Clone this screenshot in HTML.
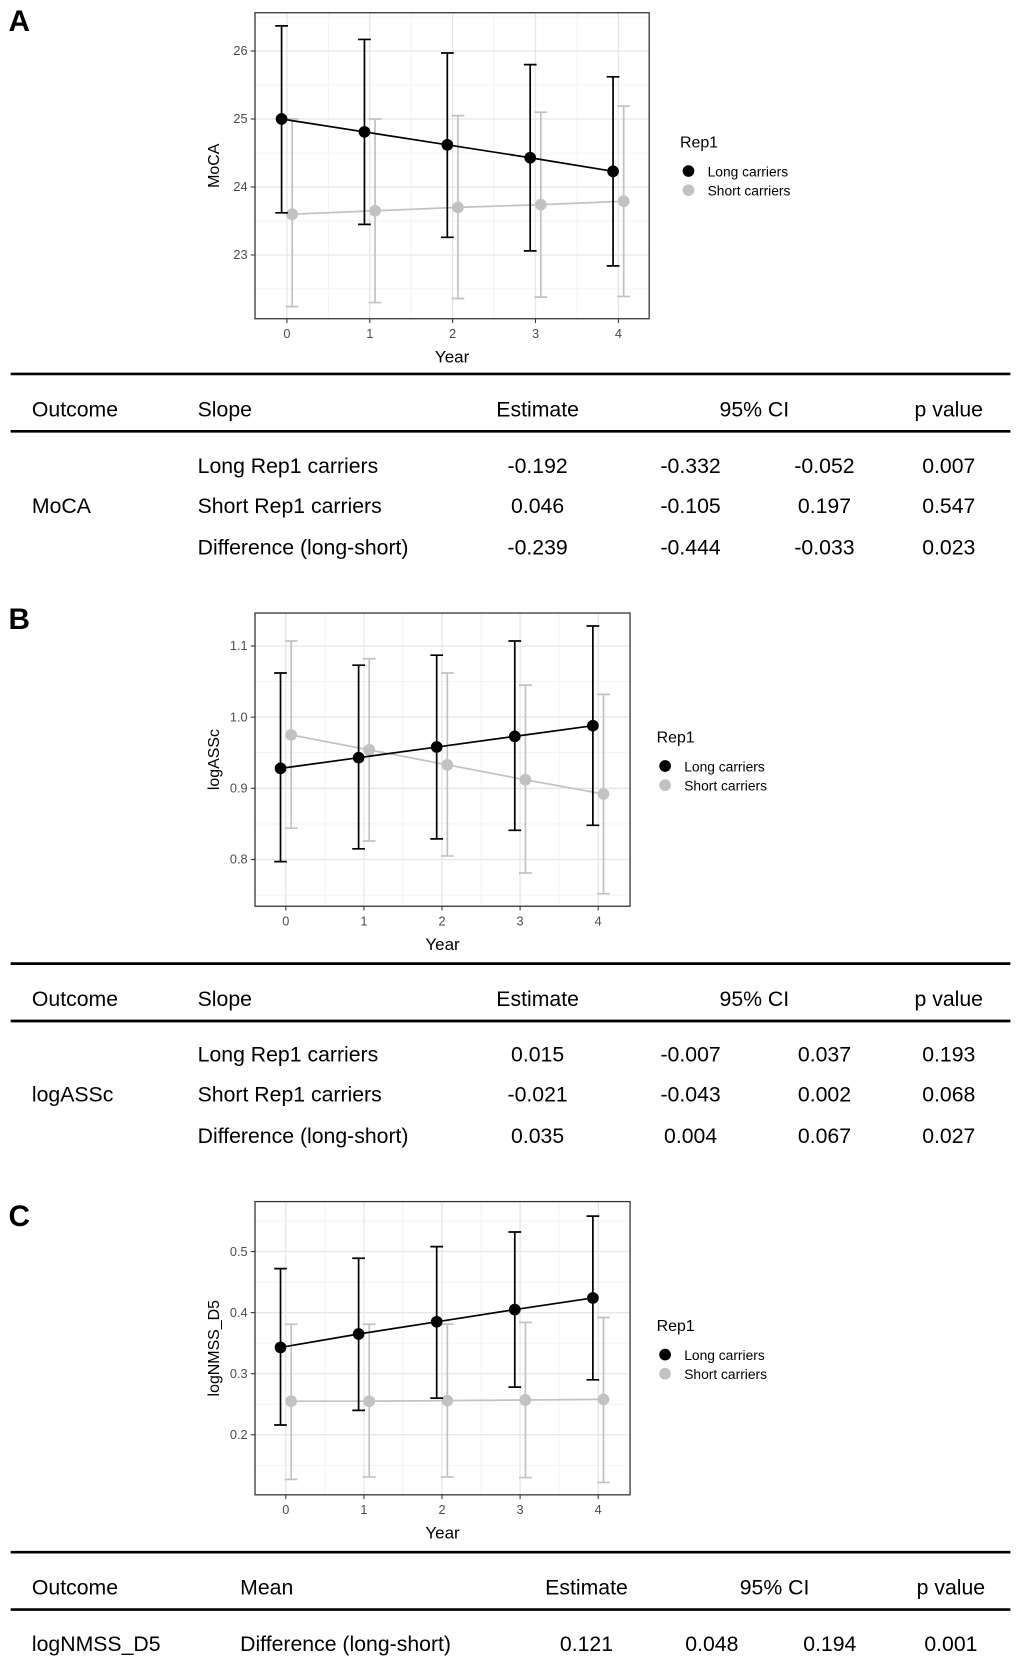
<!DOCTYPE html>
<html><head><meta charset="utf-8"><style>
html,body{margin:0;padding:0;background:#fff;width:1020px;height:1668px;overflow:hidden}
svg{display:block;font-family:"Liberation Sans",Arial,sans-serif}
</style></head><body>
<svg id="fig" width="1020" height="1668" viewBox="0 0 960 1570" xmlns="http://www.w3.org/2000/svg"></svg>
<script>
const years = [0,1,2,3,4];
const seriesNames = ["Long carriers","Short carriers"];
// Panel A (MoCA)
const aLong = [25.0,24.81,24.62,24.43,24.23];
const aLongHi = [26.37,26.17,25.97,25.80,25.62];
const aLongLo = [23.62,23.45,23.26,23.06,22.84];
const aShort = [23.60,23.65,23.70,23.74,23.79];
const aShortHi = [25.0,25.0,25.05,25.1,25.19];
const aShortLo = [22.24,22.30,22.36,22.38,22.39];
const aTicks = [23,24,25,26];
// Panel B (logASSc)
const bLong = [0.928,0.943,0.958,0.973,0.988];
const bLongHi = [1.062,1.073,1.087,1.107,1.128];
const bLongLo = [0.797,0.815,0.829,0.841,0.848];
const bShort = [0.975,0.954,0.933,0.912,0.892];
const bShortHi = [1.107,1.082,1.062,1.045,1.032];
const bShortLo = [0.844,0.826,0.805,0.781,0.752];
const bTicks = [0.8,0.9,1.0,1.1];
// Panel C (logNMSS_D5)
const cLong = [0.343,0.365,0.385,0.405,0.424];
const cLongHi = [0.472,0.489,0.508,0.532,0.558];
const cLongLo = [0.216,0.240,0.260,0.278,0.290];
const cShort = [0.255,0.255,0.256,0.257,0.258];
const cShortHi = [0.381,0.381,0.381,0.384,0.392];
const cShortLo = [0.127,0.131,0.131,0.130,0.122];
const cTicks = [0.2,0.3,0.4,0.5];

const NS="http://www.w3.org/2000/svg";
const svg=document.getElementById('fig');
function el(tag,attrs,parent,text){const e=document.createElementNS(NS,tag);for(const k in attrs)e.setAttribute(k,attrs[k]);if(text!==undefined)e.textContent=text;(parent||svg).appendChild(e);return e;}

function panel(o){
  const g=el('g',{});
  
  
  const L=240,R=o.right,T=o.top,B=o.bottom;
  const xs=v=>o.x0+v*o.dx;
  const ys=v=>o.y0-(v-o.t0)*o.py;
  el('rect',{x:L,y:T,width:R-L,height:B-T,fill:'#fff'},g);
  // minor grid
  for(let i=0;i<o.ticks.length+1;i++){const v=o.ticks[0]+(i-0.5)*o.step;const y=ys(v);if(y>T&&y<B)el('line',{x1:L,x2:R,y1:y,y2:y,stroke:'#f2f2f2','stroke-width':0.8},g);}
  for(let i=0;i<years.length-1;i++){const x=xs(years[i]+0.5);el('line',{x1:x,x2:x,y1:T,y2:B,stroke:'#f2f2f2','stroke-width':0.8},g);}
  o.ticks.forEach(t=>{const y=ys(t);el('line',{x1:L,x2:R,y1:y,y2:y,stroke:'#e6e6e6','stroke-width':1.2},g);
    el('line',{x1:L-4,x2:L,y1:y,y2:y,stroke:'#333'},g);
    const tl=el('text',{x:L-7,y:y+4,'text-anchor':'end','font-size':12,fill:'#4d4d4d'},g,o.fmt(t));
    });
  years.forEach(yv=>{const x=xs(yv);el('line',{x1:x,x2:x,y1:T,y2:B,stroke:'#e6e6e6','stroke-width':1.2},g);
    el('line',{x1:x,x2:x,y1:B,y2:B+4,stroke:'#333'},g);
    const tl=el('text',{x:x,y:B+18,'text-anchor':'middle','font-size':12,fill:'#4d4d4d'},g,String(yv));
    });
  const series=[[o.s[2],o.s[3],o.s[4],'#c2c2c2','short'],[o.s[0],o.s[1],o.s[5],'#000','long']];
  // draw short first then long
  const sdef=[{m:o.s[3],hi:o.s[4],lo:o.s[5],c:'#c2c2c2',off:5,n:'short'},{m:o.s[0],hi:o.s[1],lo:o.s[2],c:'#000',off:-5,n:'long'}];
  sdef.forEach(s=>{
    const pts=years.map((yv,i)=>(xs(yv)+s.off)+','+ys(s.m[i])).join(' ');
    const pl=el('polyline',{points:pts,fill:'none',stroke:s.c,'stroke-width':1.6},g);
    
    years.forEach((yv,i)=>{const x=xs(yv)+s.off;
      const eb=el('path',{d:`M${x},${ys(s.hi[i])}V${ys(s.lo[i])}M${x-6},${ys(s.hi[i])}H${x+6}M${x-6},${ys(s.lo[i])}H${x+6}`,stroke:s.c,'stroke-width':1.6,fill:'none'},g);
      
      const c=el('circle',{cx:x,cy:ys(s.m[i]),r:5.5,fill:s.c},g);
      
    });
  });
  el('rect',{x:L,y:T,width:R-L,height:B-T,fill:'none',stroke:'#333','stroke-width':1.2},g);
  const yl=el('text',{x:0,y:0,transform:`translate(${206},${(T+B)/2}) rotate(-90)`,'text-anchor':'middle','font-size':15},g,o.ylab);
  
  const xl=el('text',{x:(L+R)/2,y:B+41,'text-anchor':'middle','font-size':16},g,'Year');
  
  const lg=el('g',{},g);
  el('text',{x:o.lx,y:o.ly,'font-size':15},lg,'Rep1');
  [['#000',seriesNames[0]],['#c2c2c2',seriesNames[1]]].forEach((e,i)=>{
    const yy=o.ly+27+i*18;
    const en=el('g',{},lg);
    el('circle',{cx:o.lx+8,cy:yy-5,r:5.5,fill:e[0]},en);
    el('text',{x:o.lx+26,y:yy,'font-size':13},en,e[1]);
  });
}
panel({name:'moca',right:611,top:12,bottom:300,x0:270,dx:78,y0:48,t0:26,py:64,step:1,ticks:aTicks,fmt:t=>String(t),ylab:'MoCA',lx:640,ly:139,
  s:[aLong,aLongHi,aLongLo,aShort,aShortHi,aShortLo]});
panel({name:'logassc',right:593,top:577,bottom:853,x0:269,dx:73.5,y0:608,t0:1.1,py:670,step:0.1,ticks:bTicks,fmt:t=>t.toFixed(1),ylab:'logASSc',lx:618,ly:699,
  s:[bLong,bLongHi,bLongLo,bShort,bShortHi,bShortLo]});
panel({name:'lognmss',right:593,top:1131,bottom:1407,x0:269,dx:73.5,y0:1178,t0:0.5,py:575,step:0.1,ticks:cTicks,fmt:t=>t.toFixed(1),ylab:'logNMSS_D5',lx:618,ly:1253,
  s:[cLong,cLongHi,cLongLo,cShort,cShortHi,cShortLo]});

function label(t,y){const e=el('text',{x:8,y:y,'font-size':28,'font-weight':'bold'},svg,t);}
label('A',29);label('B',592);label('C',1154);

function table(name,top,cols,header,rows){
  const g=el('g',{});
  el('line',{x1:10,x2:951,y1:top,y2:top,stroke:'#000','stroke-width':2.5},g);
  el('line',{x1:10,x2:951,y1:top+54,y2:top+54,stroke:'#000','stroke-width':2.5},g);
  header.forEach(h=>{const t=el('text',{x:h[1],y:top+40,'font-size':20,'text-anchor':h[2]||'start'},g,h[0]);});
  rows.forEach(r=>{r.vals.forEach((v,i)=>{if(v==='')return;const t=el('text',{x:cols[i][0],y:r.y,'font-size':20,'text-anchor':cols[i][1]},g,v);});});
}
const cA=[[30,'start'],[186,'start'],[506,'middle'],[650,'middle'],[776,'middle'],[893,'middle']];
const hA=[['Outcome',30],['Slope',186],['Estimate',506,'middle'],['95% CI',710,'middle'],['p value',893,'middle']];
table('moca-table',352,cA,hA,[
 {y:445,vals:['','Long Rep1 carriers','-0.192','-0.332','-0.052','0.007']},
 {y:483,vals:['MoCA','Short Rep1 carriers','0.046','-0.105','0.197','0.547']},
 {y:522,vals:['','Difference (long-short)','-0.239','-0.444','-0.033','0.023']}]);
table('logassc-table',907,cA,hA,[
 {y:999,vals:['','Long Rep1 carriers','0.015','-0.007','0.037','0.193']},
 {y:1037,vals:['logASSc','Short Rep1 carriers','-0.021','-0.043','0.002','0.068']},
 {y:1076,vals:['','Difference (long-short)','0.035','0.004','0.067','0.027']}]);
table('lognmss-table',1461,[[30,'start'],[226,'start'],[552,'middle'],[670,'middle'],[781,'middle'],[895,'middle']],
 [['Outcome',30],['Mean',226],['Estimate',552,'middle'],['95% CI',729,'middle'],['p value',895,'middle']],[
 {y:1554,vals:['logNMSS_D5','Difference (long-short)','0.121','0.048','0.194','0.001']}]);
</script>
</body></html>
